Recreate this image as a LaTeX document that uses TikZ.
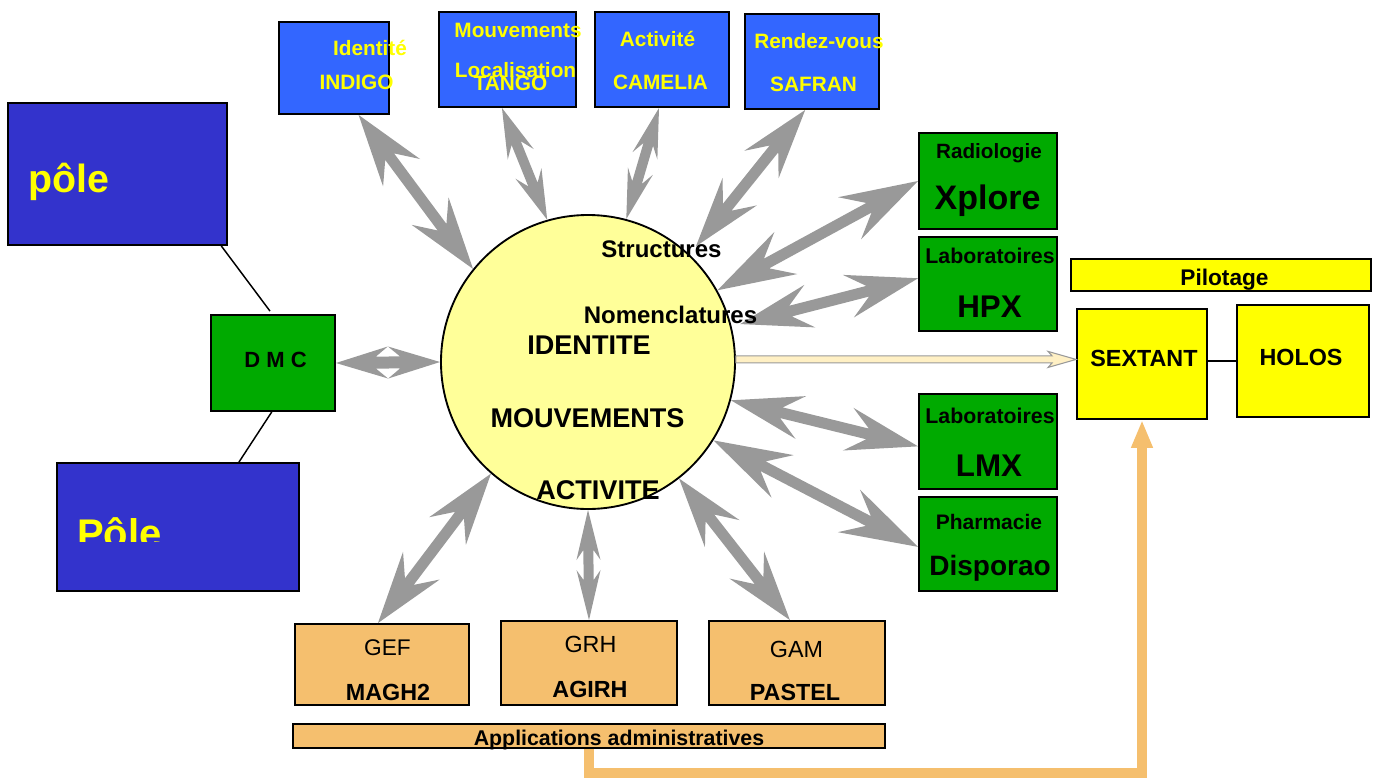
\documentclass[tikz,border=0pt]{standalone}
\usepackage{fontspec}
\setmainfont{Liberation Sans}
\usetikzlibrary{calc,arrows.meta}

\definecolor{appblue}{HTML}{3366FF}
\definecolor{poleblue}{HTML}{3333CC}
\definecolor{boxgreen}{HTML}{00AA00}
\definecolor{pilotyellow}{HTML}{FFFF00}
\definecolor{adminorange}{HTML}{F5BF6E}
\definecolor{corefill}{HTML}{FFFF99}
\definecolor{flowgray}{HTML}{999999}
\definecolor{creamfill}{HTML}{FFF0C4}
\definecolor{labelyellow}{HTML}{FFFF00}

\newcommand\fsz[1]{\fontsize{#1}{#1}\selectfont}

% Double-headed barbed block arrow between two points.
% #1 from, #2 to, #3 head length, #4 barb half-width, #5 notch depth, #6 shaft half-width (px)
\newcommand\twoway[6]{%
  \path let \p1=#1, \p2=#2 in \pgfextra{%
    \pgfmathsetmacro\twA{atan2(\y2-\y1,\x2-\x1)}%
    \pgfmathsetmacro\twD{veclen(\x2-\x1,\y2-\y1)/0.75}%
    \xdef\twA{\twA}\xdef\twD{\twD}};
  \fill[flowgray, shift={#1}, rotate=\twA, x=0.75pt, y=0.75pt]
    (0,0) -- (#3,#4) -- (#5,#6) -- (\twD-#5,#6) -- (\twD-#3,#4) -- (\twD,0)
    -- (\twD-#3,-#4) -- (\twD-#5,-#6) -- (#5,-#6) -- (#3,-#4) -- cycle;
}

% Single-headed outlined block arrow.
% #1 from, #2 to, #3 head length, #4 head half-width, #5 shaft half-width (px)
\newcommand\oneway[5]{%
  \path let \p1=#1, \p2=#2 in \pgfextra{%
    \pgfmathsetmacro\owA{atan2(\y2-\y1,\x2-\x1)}%
    \pgfmathsetmacro\owD{veclen(\x2-\x1,\y2-\y1)/0.75}%
    \xdef\owA{\owA}\xdef\owD{\owD}};
  \filldraw[fill=creamfill, draw=black!40, line width=0.8pt, line join=miter,
            shift={#1}, rotate=\owA, x=0.75pt, y=0.75pt]
    (0,#5) -- (\owD-#3,#5) -- (\owD-#3-4,#4) -- (\owD,0) -- (\owD-#3-4,-#4)
    -- (\owD-#3,-#5) -- (0,-#5) -- cycle;
}

\tikzset{
  box/.style={draw=black, line width=1.4pt, inner sep=0pt, rectangle},
  appbox/.style={box, fill=appblue},
  polebox/.style={box, fill=poleblue},
  greenbox/.style={box, fill=boxgreen},
  pilotbox/.style={box, fill=pilotyellow},
  adminbox/.style={box, fill=adminorange},
  lbl/.style={anchor=base, inner sep=0pt, font=\bfseries\fsz{#1}},
  ylbl/.style={lbl=#1, text=labelyellow},
  plainlbl/.style={anchor=base, inner sep=0pt, font=\fsz{#1}},
  link/.style={draw=black, line width=1.1pt},
  feedline/.style={draw=adminorange, line width=7.5pt, line join=miter,
                   -{Triangle[length=21pt, width=15pt]}},
}

\begin{document}
\begin{tikzpicture}[x=0.75pt, y=-0.75pt]
\useasboundingbox (0,0) rectangle (1379,779);

% ---- application boxes along the top
\node[appbox, minimum width=82.5pt, minimum height=69pt] (indigo) at (334,68) {};
\node[appbox, minimum width=102.75pt, minimum height=71.25pt] (tango) at (507.5,59.5) {};
\node[appbox, minimum width=100.5pt, minimum height=71.25pt] (camelia) at (662,59.5) {};
\node[appbox, minimum width=100.5pt, minimum height=71.25pt] (safran) at (812,61.5) {};

% ---- poles and DMC
\node[polebox, minimum width=164.25pt, minimum height=106.5pt] (pole1) at (117.5,174) {};
\node[polebox, minimum width=181.5pt, minimum height=96pt] (pole2) at (178,527) {};
\node[greenbox, minimum width=93pt, minimum height=72pt] (dmc) at (273,363) {};

% ---- medical applications
\node[greenbox, minimum width=103.5pt, minimum height=72pt] (xplore) at (988,181) {};
\node[greenbox, minimum width=103.5pt, minimum height=70.5pt] (hpx) at (988,284) {};
\node[greenbox, minimum width=103.5pt, minimum height=71.25pt] (lmx) at (988,441.5) {};
\node[greenbox, minimum width=103.5pt, minimum height=70.5pt] (dispo) at (988,544) {};

% ---- steering
\node[pilotbox, minimum width=225pt, minimum height=24pt] (pilot) at (1221,275) {};
\node[pilotbox, minimum width=97.5pt, minimum height=82.5pt] (sextant) at (1142,364) {};
\node[pilotbox, minimum width=99pt, minimum height=84pt] (holos) at (1303,361) {};

% ---- administrative applications
\node[adminbox, minimum width=130.5pt, minimum height=60.75pt] (gef) at (382,664.5) {};
\node[adminbox, minimum width=132pt, minimum height=63pt] (grh) at (589,663) {};
\node[adminbox, minimum width=132pt, minimum height=63pt] (gam) at (797,663) {};
\node[adminbox, minimum width=444pt, minimum height=18pt] (apps) at (589,736) {};

% ---- central repository
\node[circle, draw=black, line width=1.4pt, fill=corefill, inner sep=0pt,
      minimum size=220.5pt] (core) at (588,362) {};

% ---- plain links
\draw[link] ($(pole1.south west)!0.97!(pole1.south east)$) -- ($(dmc.north west)!0.476!(dmc.north east)+(0,-3)$);
\draw[link] ($(dmc.south west)!0.49!(dmc.south east)$) -- ($(pole2.north west)!0.75!(pole2.north east)$);
\draw[link] (holos.west -| sextant.east) -- (holos.west);

% ---- exchanges with the repository
\twoway{($(indigo.south west)!0.72!(indigo.south east)$)}{(core.141.5)}{72}{23}{52}{5.5}
\twoway{($(tango.south west)!0.46!(tango.south east)$)}{(core.106.6)}{50}{14}{38}{5}
\twoway{($(camelia.south west)!0.478!(camelia.south east)$)}{(core.75.5)}{50}{13}{38}{5}
\twoway{($(safran.south west)!0.45!(safran.south east)$)}{($(core.center)!1.07!(core.47)$)}{70}{22}{50}{5.5}
\twoway{(xplore.west)}{(core.29)}{78}{24}{56}{5.5}
\twoway{($(hpx.north west)!0.44!(hpx.south west)$)}{($(core.center)!1.06!(core.14.7)$)}{72}{22}{52}{5.5}
\twoway{($(lmx.north west)!0.55!(lmx.south west)$)}{(core.-15.4)}{72}{22}{52}{5.5}
\twoway{($(dispo.north west)!0.53!(dispo.south west)$)}{(core.-32.2)}{78}{24}{56}{5.5}
\twoway{($(gam.north west)!0.46!(gam.north east)$)}{(core.-52.7)}{70}{22}{50}{5.5}
\twoway{(grh.north)}{(core.south)}{50}{12}{40}{5}
\twoway{($(gef.north west)!0.477!(gef.north east)$)}{(core.229)}{72}{23}{52}{5.5}
\twoway{(dmc.east)}{(core.west)}{52}{16}{40}{6}

% ---- feed towards steering
\oneway{(core.1.5)}{(core.1.5 -| sextant.west)}{24}{8}{3.5}
\draw[feedline] (apps.south) -- ++(0,24) -| (sextant.south);

% ---- labels: top applications
\node[ylbl=15.6] (lidentite) at (370,55) {Identité};
\node[ylbl=15.6] (lindigo) at (356.5,89) {INDIGO};
\node[ylbl=15.6] (lmouv) at (518,37) {Mouvements};
\node[ylbl=15.6] (lloc) at (515.5,77) {Localisation};
\node[ylbl=15.6] (ltango) at (510.5,90) {TANGO};
\node[ylbl=15.6] (lactivite) at (657.5,46) {Activité};
\node[ylbl=15.6] (lcamelia) at (660.5,89) {CAMELIA};
\node[ylbl=15.6] (lrdv) at (819,48) {Rendez-vous};
\node[ylbl=15.6] (lsafran) at (813.5,91) {SAFRAN};

% ---- labels: poles and DMC
\node[ylbl=29.5, anchor=base west] (lpole1) at (28,192) {pôle};
\begin{scope}
  \clip (57,463) rectangle (299,541.5);
  \node[ylbl=30, anchor=base west] (lpole2) at (77,547) {Pôle};
\end{scope}
\node[lbl=16.5] (ldmc) at (275.5,367.7) {D M C};

% ---- labels: medical applications
\node[lbl=15.5] (lradio) at (989,158.5) {Radiologie};
\node[lbl=25.5] (lxplore) at (987.5,209.5) {Xplore};
\node[lbl=16] (llabo1) at (990,263.5) {Laboratoires};
\node[lbl=23.5] (lhpx) at (989.5,317) {HPX};
\node[lbl=16] (llabo2) at (990,423.5) {Laboratoires};
\node[lbl=23.5] (llmx) at (989,476) {LMX};
\node[lbl=15.75] (lpharma) at (989,529.5) {Pharmacie};
\node[lbl=21] (ldispo) at (990,575) {Disporao};

% ---- labels: steering
\node[lbl=17] (lpilot) at (1224.5,285) {Pilotage};
\node[lbl=17.5] (lsextant) at (1144,366.7) {SEXTANT};
\node[lbl=17.5] (lholos) at (1301,365) {HOLOS};

% ---- labels: administrative applications
\node[plainlbl=17] (lgef) at (387.5,655) {GEF};
\node[lbl=17.5] (lmagh) at (388,700) {MAGH2};
\node[plainlbl=17.5] (lgrh) at (590.5,652) {GRH};
\node[lbl=17.5] (lagirh) at (590,697) {AGIRH};
\node[plainlbl=17.5] (lgam) at (796.5,657) {GAM};
\node[lbl=17.5] (lpastel) at (795,700) {PASTEL};
\node[lbl=16] (lapps) at (619,745) {Applications administratives};

% ---- labels: central repository
\node[lbl=18] (lstruct) at (661.5,257.5) {Structures};
\node[lbl=18] (lnomen) at (670.5,323.5) {Nomenclatures};
\node[lbl=20.3] (lident) at (589,354) {IDENTITE};
\node[lbl=20.3] (lmouvc) at (587.5,427.8) {MOUVEMENTS};
\node[lbl=20.3] (lactc) at (598,499.5) {ACTIVITE};
\end{tikzpicture}
\end{document}
